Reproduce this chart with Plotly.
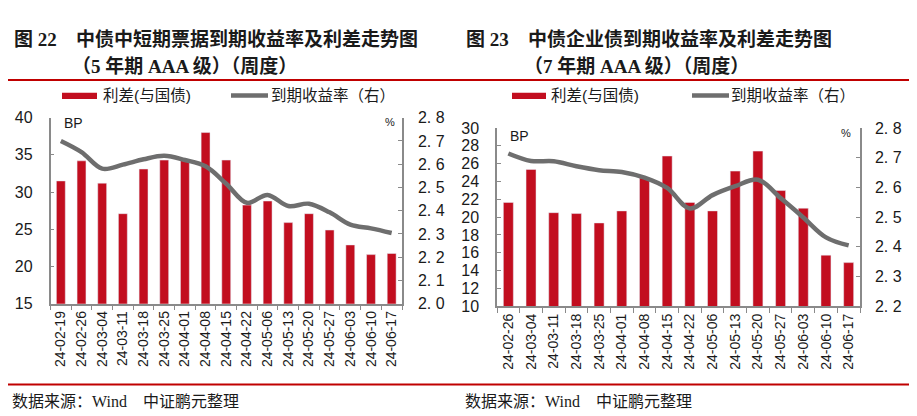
import plotly.graph_objects as go

# ---------------- data ----------------
dates_22 = ["24-02-19", "24-02-26", "24-03-04", "24-03-11", "24-03-18", "24-03-25",
            "24-04-01", "24-04-08", "24-04-15", "24-04-22", "24-05-06", "24-05-13",
            "24-05-20", "24-05-27", "24-06-03", "24-06-10", "24-06-17"]
spread_22 = [31.5, 34.2, 31.2, 27.1, 33.1, 34.3, 34.3, 38.0, 34.3, 28.25, 28.8, 25.9,
             27.1, 24.9, 22.9, 21.6, 21.75]
yield_22 = [2.700, 2.652, 2.581, 2.598, 2.621, 2.636, 2.618, 2.591, 2.516, 2.434, 2.468,
            2.420, 2.430, 2.393, 2.340, 2.324, 2.304]

dates_23 = ["24-02-26", "24-03-04", "24-03-11", "24-03-18", "24-03-25", "24-04-01",
            "24-04-08", "24-04-15", "24-04-22", "24-05-06", "24-05-13", "24-05-20",
            "24-05-27", "24-06-03", "24-06-10", "24-06-17"]
spread_23 = [21.65, 25.35, 20.5, 20.4, 19.35, 20.7, 24.4, 26.85, 21.65, 20.7, 25.16,
             27.4, 22.98, 21.0, 15.74, 14.9]
yield_23 = [2.714, 2.689, 2.688, 2.671, 2.658, 2.652, 2.633, 2.598, 2.529, 2.574, 2.604,
            2.626, 2.564, 2.499, 2.432, 2.405]

left_ticks_22 = [15, 20, 25, 30, 35, 40]
right_ticks_22 = [2.0, 2.1, 2.2, 2.3, 2.4, 2.5, 2.6, 2.7, 2.8]
left_ticks_23 = [10, 12, 14, 16, 18, 20, 22, 24, 26, 28, 30]
right_ticks_23 = [2.2, 2.3, 2.4, 2.5, 2.6, 2.7, 2.8]

name_spread = "利差(与国债)"
name_yield = "到期收益率（右）"
title_22_num = "图 22"
title_22_l1 = "中债中短期票据到期收益率及利差走势图"
title_22_l2 = "（5 年期 AAA 级）（周度）"
title_23_num = "图 23"
title_23_l1 = "中债企业债到期收益率及利差走势图"
title_23_l2 = "（7 年期 AAA 级）（周度）"
source_text = "数据来源：Wind　中证鹏元整理"

# ---------------- style ----------------
W, H = 917, 416
RED = "#C20E1F"
GREY_LINE = "#6E6E6E"
AXIS = "#8A8A8A"
TXT = "#1A1A1A"
SANS = "Liberation Sans, Arial, Noto Sans CJK SC"
SERIF = "Liberation Serif, Noto Sans CJK SC"


def px(x):
    return x / W


def py(y):
    return 1 - y / H


def fmt_tick(v):
    s = f"{v:.1f}"
    return s.replace(".", ". ")


fig = go.Figure()

# panel 22
fig.add_trace(go.Bar(x=dates_22, y=spread_22, name=name_spread, marker_color=RED,
                     width=0.43, xaxis="x", yaxis="y", showlegend=False))
fig.add_trace(go.Scatter(x=dates_22, y=yield_22, name=name_yield, mode="lines",
                         line=dict(color=GREY_LINE, width=4.5, shape="spline", smoothing=1.0),
                         xaxis="x", yaxis="y2", showlegend=False))
# panel 23
fig.add_trace(go.Bar(x=dates_23, y=spread_23, name=name_spread, marker_color=RED,
                     width=0.44, xaxis="x2", yaxis="y3", showlegend=False))
fig.add_trace(go.Scatter(x=dates_23, y=yield_23, name=name_yield, mode="lines",
                         line=dict(color=GREY_LINE, width=4.5, shape="spline", smoothing=1.0),
                         xaxis="x2", yaxis="y4", showlegend=False))

xcommon = dict(type="category", showline=True, linecolor=AXIS, linewidth=1.5,
               ticks="outside", ticklen=5, tickcolor=AXIS, tickwidth=1.2,
               tickson="boundaries", tickangle=-90, showgrid=False, zeroline=False,
               tickfont=dict(family=SANS, size=14, color=TXT))
ycommon = dict(showline=True, linecolor=AXIS, linewidth=1.5, ticks="inside",
               ticklen=4, tickcolor=AXIS, tickwidth=1.2, showgrid=False, zeroline=False,
               tickfont=dict(family=SANS, size=16, color=TXT), ticklabelstandoff=13)

y_top_22, y_bot_22 = 106.0, 300.0
y_top_23, y_bot_23 = 116.7, 302.7

fig.update_layout(
    width=W, height=H, autosize=False,
    margin=dict(l=0, r=0, t=0, b=0),
    paper_bgcolor="white", plot_bgcolor="white",
    bargap=0.5,
    xaxis=dict(xcommon, domain=[px(42.5), px(394)], anchor="y"),
    yaxis=dict(ycommon, domain=[py(y_bot_22), py(y_top_22)], range=[15, 40],
               tickvals=left_ticks_22, anchor="x"),
    yaxis2=dict(ycommon, overlaying="y", side="right", range=[2.0, 2.8],
                tickvals=right_ticks_22, ticktext=[fmt_tick(v) for v in right_ticks_22],
                anchor="x", ticklabelstandoff=11),
    xaxis2=dict(xcommon, domain=[px(489), px(852)], anchor="y3"),
    yaxis3=dict(ycommon, domain=[py(y_bot_23), py(y_top_23)], range=[10, 30],
                tickvals=left_ticks_23, anchor="x2"),
    yaxis4=dict(ycommon, overlaying="y3", side="right", range=[2.2, 2.8],
                tickvals=right_ticks_23, ticktext=[fmt_tick(v) for v in right_ticks_23],
                anchor="x2", ticklabelstandoff=10),
)

shapes = []
annotations = []

# horizontal red rules
for y in (66.7, 384.3):
    shapes.append(dict(type="line", xref="paper", yref="paper", x0=px(0), x1=px(905),
                       y0=py(y), y1=py(y), line=dict(color="#C00000", width=2)))


def add_text(x, y, text, size, family=SANS, bold=False, xanchor="left", color=TXT):
    annotations.append(dict(xref="paper", yref="paper", x=px(x), y=py(y), text=text,
                            showarrow=False, xanchor=xanchor, yanchor="middle",
                            font=dict(family=family, size=size, color=color,
                                      weight="bold" if bold else "normal")))


# titles
add_text(4, 24, title_22_num, 19, SERIF, True)
add_text(66, 24, title_22_l1, 19, SERIF, True)
add_text(62, 52, title_22_l2, 19, SERIF, True)
add_text(456, 24, title_23_num, 19, SERIF, True)
add_text(518, 24, title_23_l1, 19, SERIF, True)
add_text(514, 52, title_23_l2, 19, SERIF, True)

# legends
for (rx0, rx1, tx1, lx0, lx1, tx2) in [(54, 89, 93, 223, 260, 261),
                                        (504, 538, 541, 684, 721, 721)]:
    shapes.append(dict(type="rect", xref="paper", yref="paper", x0=px(rx0), x1=px(rx1),
                       y0=py(86.5), y1=py(80), fillcolor=RED, line=dict(width=0)))
    shapes.append(dict(type="line", xref="paper", yref="paper", x0=px(lx0), x1=px(lx1),
                       y0=py(83), y1=py(83), line=dict(color=GREY_LINE, width=4.5)))
    add_text(tx1, 83, name_spread, 15.5)
    add_text(tx2, 83, name_yield, 15.5)

# unit labels
add_text(54, 112, "BP", 14)
add_text(382, 110, "%", 11, xanchor="center")
add_text(500, 125, "BP", 14)
add_text(838, 122, "%", 11, xanchor="center")

# sources
add_text(2, 402, source_text, 16, SERIF)
add_text(455, 402, source_text, 16, SERIF)

fig.update_layout(shapes=shapes, annotations=annotations)

fig.write_html("out.html")
